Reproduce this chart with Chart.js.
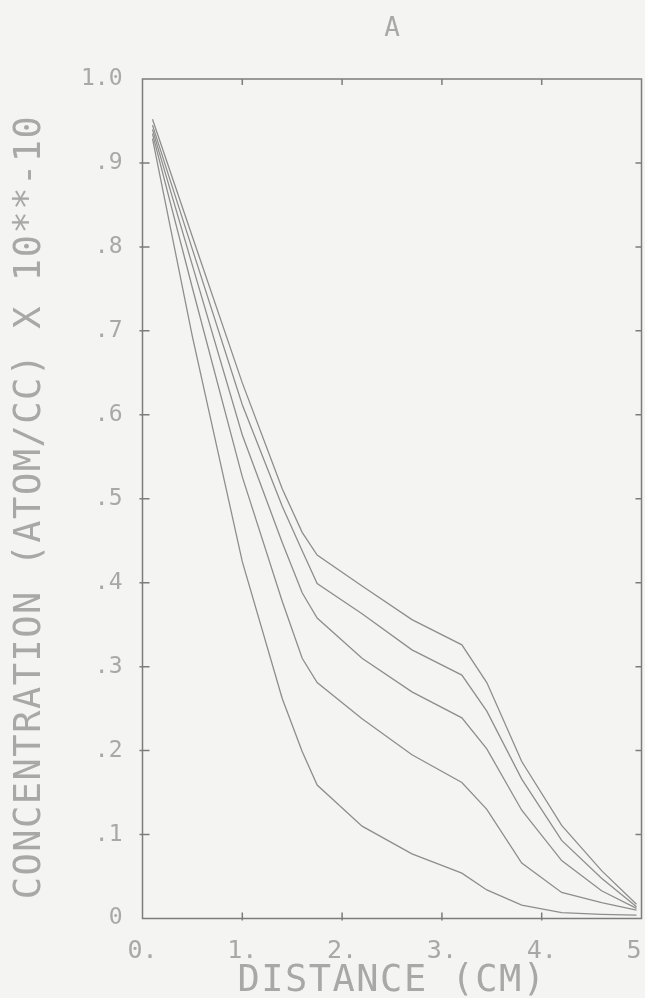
<!DOCTYPE html>
<html>
<head>
<meta charset="utf-8">
<script src="https://cdn.jsdelivr.net/npm/chart.js@4.4.1/dist/chart.umd.min.js"></script>
<style>
  html, body { margin: 0; padding: 0; background: #f4f4f2; }
  canvas { display: block; }
</style>
</head>
<body>
<canvas id="graphiqueA" width="645" height="998"></canvas>
<script>
var distance = [0.1, 0.5, 1.0, 1.4, 1.6, 1.75, 2.2, 2.7, 3.2, 3.45, 3.8, 4.2, 4.6, 4.95];
var courbe1 = [0.952, 0.812, 0.638, 0.512, 0.460, 0.433, 0.396, 0.356, 0.326, 0.281, 0.187, 0.111, 0.057, 0.017];
var courbe2 = [0.945, 0.797, 0.612, 0.491, 0.438, 0.399, 0.363, 0.320, 0.290, 0.247, 0.166, 0.093, 0.048, 0.014];
var courbe3 = [0.940, 0.778, 0.576, 0.448, 0.388, 0.358, 0.310, 0.270, 0.239, 0.202, 0.129, 0.069, 0.033, 0.012];
var courbe4 = [0.935, 0.751, 0.526, 0.378, 0.310, 0.281, 0.238, 0.195, 0.162, 0.130, 0.066, 0.031, 0.019, 0.010];
var courbe5 = [0.929, 0.693, 0.425, 0.262, 0.199, 0.159, 0.110, 0.077, 0.054, 0.034, 0.016, 0.007, 0.005, 0.004];

var etiquettesX = ['0.', '1.', '2.', '3.', '4.', '5.'];
var etiquettesY = ['0', '.1', '.2', '.3', '.4', '.5', '.6', '.7', '.8', '.9', '1.0'];
var titre = 'A';
var titreX = 'DISTANCE (CM)';
var titreY = 'CONCENTRATION (ATOM/CC) X 10**-10';

var police = '"DejaVu Sans Mono", "Liberation Mono", monospace';
var gris = '#a8a8a8';

function points(valeurs) {
    return distance.map(function (d, i) { return { x: d, y: valeurs[i] }; });
}

function serie(valeurs) {
    return {
        data: points(valeurs),
        borderColor: '#8e8e8e',
        borderWidth: 1.3,
        pointRadius: 0,
        tension: 0,
        fill: false
    };
}

// cadre, petites graduations vers l'interieur et titres des axes
var cadre = {
    id: 'cadre',
    afterDatasetsDraw: function (chart) {
        var ctx = chart.ctx;
        var a = chart.chartArea;
        var sx = chart.scales.x;
        var sy = chart.scales.y;
        ctx.save();
        ctx.strokeStyle = '#7c7c7c';
        ctx.lineWidth = 1.5;
        ctx.strokeRect(a.left, a.top, a.right - a.left, a.bottom - a.top);
        ctx.beginPath();
        for (var i = 1; i < etiquettesY.length - 1; i++) {
            var py = sy.getPixelForValue(i / 10);
            ctx.moveTo(a.left - 3, py);
            ctx.lineTo(a.left + 7, py);
            ctx.moveTo(a.right - 6, py);
            ctx.lineTo(a.right, py);
        }
        for (var j = 1; j < etiquettesX.length - 1; j++) {
            var px = sx.getPixelForValue(j);
            ctx.moveTo(px, a.bottom + 2);
            ctx.lineTo(px, a.bottom - 6);
            ctx.moveTo(px, a.top);
            ctx.lineTo(px, a.top + 6);
        }
        ctx.stroke();

        ctx.fillStyle = gris;
        ctx.font = '37px ' + police;
        ctx.letterSpacing = '1.5px';
        ctx.textAlign = 'center';
        ctx.textBaseline = 'middle';
        ctx.fillText(titreX, (a.left + a.right) / 2, a.bottom + 63);
        ctx.translate(a.left - 112, a.top + 428);
        ctx.rotate(-Math.PI / 2);
        ctx.fillText(titreY, 0, 0);
        ctx.restore();
    }
};

var ctxA = document.getElementById('graphiqueA').getContext('2d');
var graphiqueA = new Chart(ctxA, {
    type: 'line',
    data: {
        datasets: [serie(courbe1), serie(courbe2), serie(courbe3), serie(courbe4), serie(courbe5)]
    },
    options: {
        responsive: false,
        animation: false,
        devicePixelRatio: 1,
        layout: { padding: { left: 60, right: 3.5, top: 0, bottom: 39.5 } },
        plugins: {
            legend: { display: false },
            tooltip: { enabled: false },
            title: {
                display: true,
                text: titre,
                fullSize: false,
                color: gris,
                font: { family: police, size: 26, weight: 'normal' },
                padding: { top: 14, bottom: 33.8 }
            }
        },
        scales: {
            x: {
                type: 'linear',
                min: 0,
                max: 5,
                grid: { display: false },
                border: { display: false },
                ticks: {
                    stepSize: 1,
                    padding: 10,
                    color: gris,
                    font: { family: police, size: 25 },
                    maxRotation: 0,
                    callback: function (v) { return etiquettesX[v]; }
                },
                afterFit: function (s) {
                    s.height = 40;
                    s.paddingLeft = 0;
                    s.paddingRight = 0;
                }
            },
            y: {
                min: 0,
                max: 1,
                grid: { display: false },
                border: { display: false },
                ticks: {
                    stepSize: 0.1,
                    padding: 12,
                    color: gris,
                    font: { family: police, size: 23 },
                    callback: function (v) { return etiquettesY[Math.round(v * 10)]; }
                },
                afterFit: function (s) {
                    s.width = 82.5;
                    s.paddingTop = 0;
                    s.paddingBottom = 0;
                }
            }
        }
    },
    plugins: [cadre]
});
</script>
</body>
</html>
